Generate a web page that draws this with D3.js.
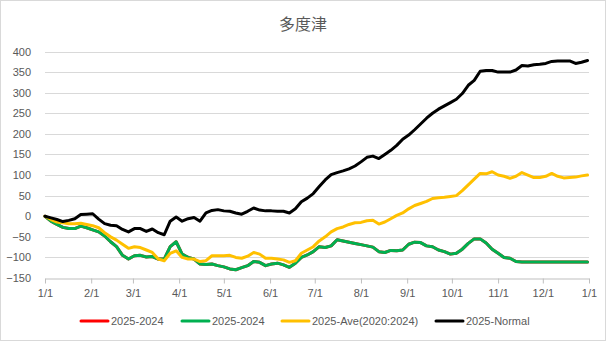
<!DOCTYPE html>
<html>
<head>
<meta charset="utf-8">
<script src="https://cdn.jsdelivr.net/npm/d3@7"></script>
<style>
  html, body { margin: 0; padding: 0; background: #fff; }
  svg { display: block; }
  text { font-family: "Liberation Sans", Arial, sans-serif; fill: #595959; }
</style>
</head>
<body>
<svg id="chart" width="606" height="341"></svg>
<script>
const title = "多度津";
const yTicks = [-150, -100, -50, 0, 50, 100, 150, 200, 250, 300, 350, 400];
const monthTicks = ["2025-01-01","2025-02-01","2025-03-01","2025-04-01","2025-05-01","2025-06-01",
  "2025-07-01","2025-08-01","2025-09-01","2025-10-01","2025-11-01","2025-12-01","2026-01-01"];
const seriesNames = ["2025-2024", "2025-2024", "2025-Ave(2020:2024)", "2025-Normal"];
const seriesColors = ["#ff0000", "#00b050", "#ffc000", "#000000"];
const startDate = "2025-01-01";
const stepDays = 4;

const diff2024 = [0,-12,-20,-27,-30,-30,-24,-28,-33,-38,-48,-62,-74,-95,-104,-96,-95,-99,-98,-104,
  -104,-74,-62,-92,-100,-104,-116,-117,-116,-120,-123,-128,-130,-125,-120,-110,-112,-120,-116,-114,
  -118,-124,-114,-100,-94,-86,-74,-76,-72,-57,-60,-63,-66,-69,-72,-75,-86,-88,-83,-84,
  -82,-68,-63,-64,-72,-74,-82,-86,-92,-90,-80,-66,-55,-55,-65,-80,-90,-100,-102,-110,
  -111,-111,-111,-111,-111,-111,-111,-111,-111,-111,-111,-111];
const diff2024b = [0,-12,-20,-27,-30,-30,-24,-28,-33,-38,-48,-62,-74,-95,-104,-96,-95,-99,-98,-104,
  -104,-74,-62,-92,-100,-104,-116,-117,-116,-120,-123,-128,-130,-125,-120,-110,-112,-120,-116,-114,
  -118,-124,-114,-100,-94,-86,-74,-76,-72,-57,-60,-63,-66,-69,-72,-75,-86,-88,-83,-84,
  -82,-68,-63,-64,-72,-74,-82,-86,-92,-90,-80,-66,-55,-55,-65,-80,-90,-100,-102,-110,
  -111,-111,-111,-111,-111,-111,-111,-111,-111,-111,-111,-111];
const diffAve = [0,-8,-14,-16,-18,-18,-17,-20,-23,-28,-40,-50,-58,-68,-78,-74,-76,-82,-88,-104,
  -108,-90,-84,-100,-104,-104,-110,-108,-96,-96,-96,-95,-100,-102,-97,-88,-92,-102,-102,-104,
  -106,-112,-108,-90,-82,-74,-60,-50,-38,-30,-26,-20,-16,-15,-11,-10,-19,-14,-6,2,
  8,18,26,31,36,43,45,46,48,50,62,76,90,104,103,108,100,97,92,97,
  106,100,94,94,97,104,97,93,94,95,98,100];
const diffNormal = [0,-4,-8,-13,-10,-6,4,5,6,-7,-18,-22,-23,-32,-38,-30,-30,-37,-31,-40,
  -45,-12,-2,-12,-6,-3,-12,8,14,16,13,12,8,5,12,20,15,13,13,12,
  12,8,18,35,44,55,72,88,101,106,110,115,122,132,143,146,140,150,160,172,
  187,197,210,224,238,250,260,268,276,284,298,318,330,352,354,354,350,350,350,355,
  366,365,368,369,371,376,377,377,377,371,374,378];

const seriesData = [diff2024, diff2024b, diffAve, diffNormal];

const svg = d3.select("#chart");
const W = 606, H = 341;
const mLeft = 45, mRight = 589, mTop = 51.5, mBottom = 278;

svg.append("rect").attr("x", 0.5).attr("y", 0.5).attr("width", W - 1).attr("height", H - 1)
  .attr("fill", "#fff").attr("stroke", "#d9d9d9");

const parse = d3.timeParse("%Y-%m-%d");
const start = parse(startDate);
const ticks = monthTicks.map(parse);
const x = d3.scaleTime().domain([ticks[0], ticks[ticks.length - 1]]).range([mLeft, mRight]);
const y = d3.scaleLinear().domain([-150, 400]).range([mBottom, mTop]);

// gridlines
svg.append("g").selectAll("line").data(yTicks.filter(v => v !== -150)).join("line")
  .attr("x1", mLeft).attr("x2", mRight)
  .attr("y1", d => Math.round(y(d)) + 0.5).attr("y2", d => Math.round(y(d)) + 0.5)
  .attr("stroke", "#d9d9d9").attr("stroke-width", 1);

// y labels
const yAxis = d3.axisLeft(y).tickValues(yTicks).tickSize(0).tickPadding(0);
const gy = svg.append("g").attr("transform", `translate(${mLeft - 14},0)`).call(yAxis);
gy.select(".domain").remove();
gy.selectAll("text").style("font-size", "11px").style("fill", "#595959")
  .style("font-family", "'Liberation Sans', Arial, sans-serif");

// x axis
const xAxis = d3.axisBottom(x).tickValues(ticks).tickFormat(d3.timeFormat("%-m/%-d"))
  .tickSize(5).tickPadding(6).tickSizeOuter(0);
const gx = svg.append("g").attr("transform", `translate(0,${Math.round(mBottom) + 0.5})`).call(xAxis);
gx.select(".domain").attr("stroke", "#bfbfbf");
gx.selectAll(".tick line").attr("stroke", "#bfbfbf");
gx.selectAll("text").style("font-size", "11px").style("fill", "#595959")
  .style("font-family", "'Liberation Sans', Arial, sans-serif");

// lines
const dates = d3.range(0, diffNormal.length).map(i => d3.timeDay.offset(start, i * stepDays));
const line = d3.line().x((d, i) => x(dates[i])).y(d => y(d));
seriesData.forEach((s, k) => {
  svg.append("path").datum(s).attr("d", line)
    .attr("fill", "none").attr("stroke", seriesColors[k]).attr("stroke-width", 3)
    .attr("stroke-linejoin", "round").attr("stroke-linecap", "round");
});

// title
svg.append("text").attr("x", 303).attr("y", 30).attr("text-anchor", "middle")
  .style("font-family", "'Noto Sans CJK JP', sans-serif").style("font-size", "16px")
  .style("fill", "#595959").text(title);

// legend
const legX = [81, 182, 282, 436];
const lg = svg.append("g");
seriesNames.forEach((n, k) => {
  lg.append("line").attr("x1", legX[k]).attr("x2", legX[k] + 27).attr("y1", 321).attr("y2", 321)
    .attr("stroke", seriesColors[k]).attr("stroke-width", 3).attr("stroke-linecap", "round");
  lg.append("text").attr("x", legX[k] + 30).attr("y", 325).style("font-size", "11px").text(n);
});
</script>
</body>
</html>
